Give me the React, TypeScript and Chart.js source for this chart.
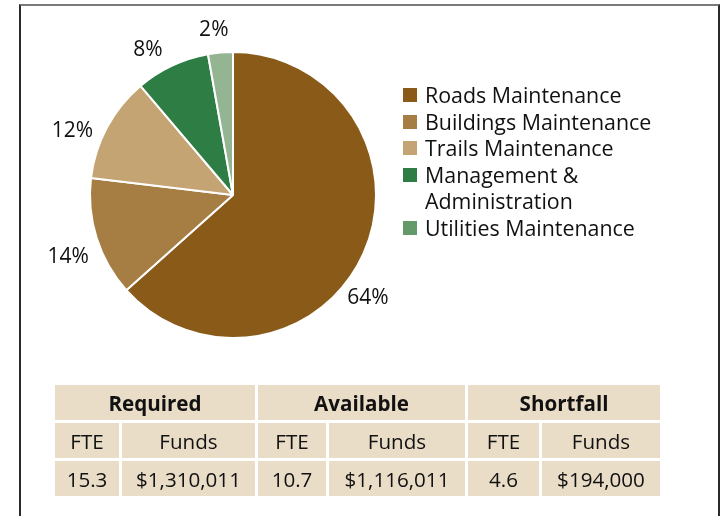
import React, { useEffect, useRef } from "react";
import { Chart, registerables } from "chart.js";

Chart.register(...registerables);

const categories = [
  "Roads Maintenance",
  "Buildings Maintenance",
  "Trails Maintenance",
  "Management & Administration",
  "Utilities Maintenance",
];
const legendLines = [
  ["Roads Maintenance"],
  ["Buildings Maintenance"],
  ["Trails Maintenance"],
  ["Management &", "Administration"],
  ["Utilities Maintenance"],
];
const shares = [63.4, 13.5, 11.9, 8.4, 2.8];
const percentLabels = ["64%", "14%", "12%", "8%", "2%"];
const sliceColors = ["#8A5A19", "#A67D42", "#C4A473", "#2E7D44", "#94B592"];
const legendColors = ["#8A5A19", "#A67D42", "#C4A473", "#2E7D44", "#64996A"];

const tableGroups = ["Required", "Available", "Shortfall"];
const tableSubHeads = ["FTE", "Funds", "FTE", "Funds", "FTE", "Funds"];
const tableValues = ["15.3", "$1,310,011", "10.7", "$1,116,011", "4.6", "$194,000"];

const FONT = '"Open Sans", "Noto Sans", sans-serif';
const TEXT = "#111111";

// label placement tweaks (degrees shift, distance beyond the rim)
const labelAngleShift = [13.3, -3.1, -6.5, -5.2, -1.6];
const labelGap = [27, 33, 30, 25, 23];

const pctLabelPlugin = {
  id: "pctLabels",
  afterDatasetsDraw(chart: any) {
    const meta = chart.getDatasetMeta(0);
    const ctx = chart.ctx;
    ctx.save();
    ctx.font = `21px ${FONT}`;
    ctx.fillStyle = TEXT;
    ctx.textAlign = "center";
    ctx.textBaseline = "middle";
    meta.data.forEach((arc: any, i: number) => {
      const p = arc.getProps(["x", "y", "startAngle", "endAngle", "outerRadius"], true);
      const mid = (p.startAngle + p.endAngle) / 2 + (labelAngleShift[i] * Math.PI) / 180;
      const r = p.outerRadius + labelGap[i];
      ctx.fillText(percentLabels[i], p.x + Math.cos(mid) * r, p.y + Math.sin(mid) * r);
    });
    ctx.restore();
  },
};

export default function App() {
  const canvasRef = useRef<HTMLCanvasElement | null>(null);

  useEffect(() => {
    if (!canvasRef.current) return;
    const chart = new Chart(canvasRef.current, {
      type: "pie",
      data: {
        labels: categories,
        datasets: [
          {
            data: shares,
            backgroundColor: sliceColors,
            borderColor: "#ffffff",
            borderWidth: 2,
          },
        ],
      },
      options: {
        animation: false,
        responsive: false,
        maintainAspectRatio: false,
        layout: { padding: { left: 89, top: 51, right: 348, bottom: 177 } },
        plugins: {
          legend: { display: false },
          tooltip: { enabled: false },
        },
      },
      plugins: [pctLabelPlugin],
    });
    return () => chart.destroy();
  }, []);

  const colW = [64, 133, 68, 136, 71, 118];

  return (
    <div
      style={{
        position: "absolute",
        left: 0,
        top: 0,
        width: 725,
        height: 516,
        overflow: "hidden",
        background: "#ffffff",
        fontFamily: FONT,
        color: TEXT,
      }}
    >
      <div
        style={{
          position: "absolute",
          left: 19,
          top: 4,
          width: 697,
          height: 600,
          borderTop: "2px solid #7a7a7a",
          borderLeft: "2px solid #2a2a2a",
          borderRight: "2px solid #2a2a2a",
        }}
      />
      <canvas
        ref={canvasRef}
        width={725}
        height={516}
        style={{ position: "absolute", left: 0, top: 0, width: 725, height: 516 }}
      />
      <div style={{ position: "absolute", left: 403, top: 82 }}>
        {legendLines.map((lines, i) => (
          <div key={i} style={{ display: "flex", alignItems: "flex-start" }}>
            <div
              style={{
                width: 14,
                height: 14,
                background: legendColors[i],
                marginTop: 6,
                marginRight: 8,
                flex: "none",
              }}
            />
            <div style={{ fontSize: 21.4, lineHeight: "26.6px", whiteSpace: "nowrap" }}>
              {lines.map((l, j) => (
                <div key={j}>{l}</div>
              ))}
            </div>
          </div>
        ))}
      </div>
      <div
        style={{
          position: "absolute",
          left: 55,
          top: 385,
          display: "grid",
          gridTemplateColumns: colW.map((w) => `${w}px`).join(" "),
          gridTemplateRows: "35px 35px 35px",
          gap: 3,
          fontSize: 20.6,
        }}
      >
        {tableGroups.map((g, i) => (
          <div
            key={"g" + i}
            style={{
              gridColumn: `${i * 2 + 1} / span 2`,
              background: "#EADDC8",
              display: "flex",
              alignItems: "center",
              justifyContent: "center",
              fontWeight: 700,
            }}
          >
            {g}
          </div>
        ))}
        {tableSubHeads.map((h, i) => (
          <div
            key={"h" + i}
            style={{
              background: "#EADDC8",
              display: "flex",
              alignItems: "center",
              justifyContent: "center",
            }}
          >
            {h}
          </div>
        ))}
        {tableValues.map((v, i) => (
          <div
            key={"v" + i}
            style={{
              background: "#EADDC8",
              display: "flex",
              alignItems: "center",
              justifyContent: "center",
            }}
          >
            {v}
          </div>
        ))}
      </div>
    </div>
  );
}
